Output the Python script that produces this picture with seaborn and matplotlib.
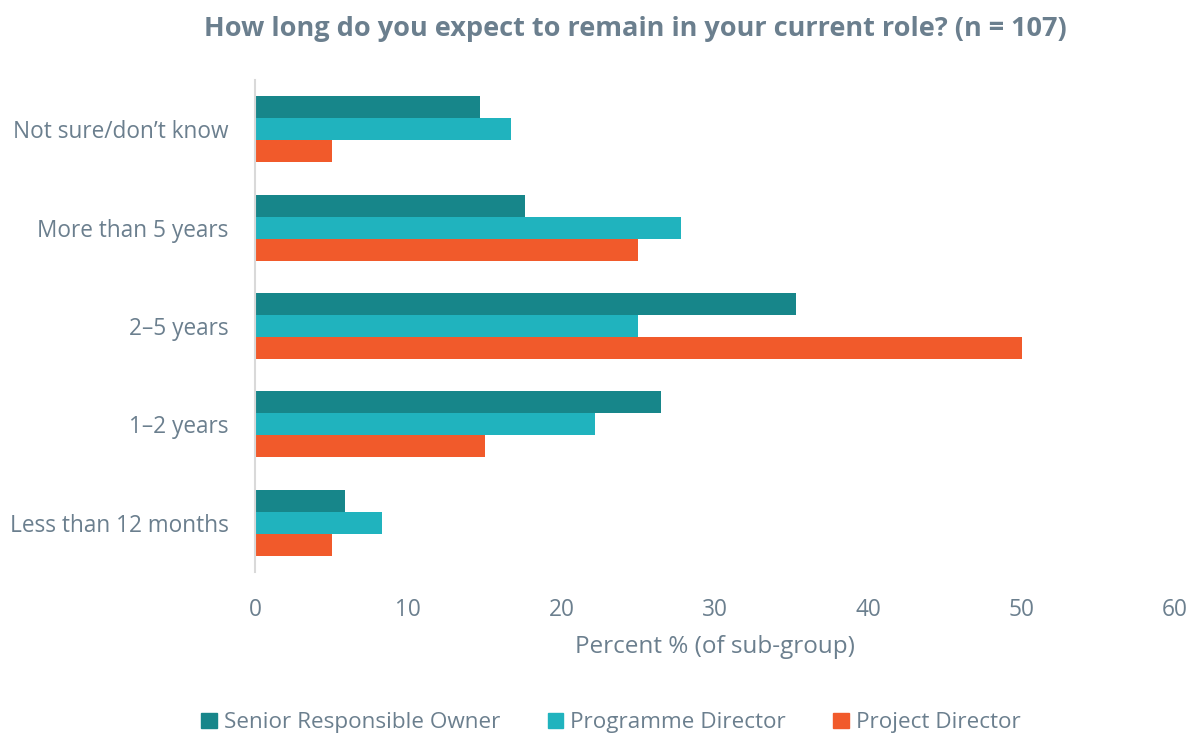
import matplotlib
matplotlib.use("Agg")
import matplotlib.pyplot as plt
import seaborn as sns
import pandas as pd

# Survey responses: share of each sub-group (%)
categories = ["Not sure/don\u2019t know", "More than 5 years", "2\u20135 years",
              "1\u20132 years", "Less than 12 months"]
groups = ["Senior Responsible Owner", "Programme Director", "Project Director"]
sro = [14.7, 17.6, 35.3, 26.5, 5.9]
programme = [16.7, 27.8, 25.0, 22.2, 8.3]
project = [5.0, 25.0, 50.0, 15.0, 5.0]
x_ticks = [0, 10, 20, 30, 40, 50, 60]

colors = ["#17868a", "#20b3be", "#f15a2b"]
text_color = "#6b7f8e"

df = pd.DataFrame({
    "category": categories * 3,
    "group": [groups[0]] * 5 + [groups[1]] * 5 + [groups[2]] * 5,
    "value": sro + programme + project,
})

sns.set_theme(style="white")
plt.rcParams["font.family"] = ["Open Sans", "DejaVu Sans"]

fig = plt.figure(figsize=(11.93, 7.36), dpi=100)
ax = fig.add_axes([0.2137, 0.2228, 0.7713, 0.6685])

sns.barplot(data=df, x="value", y="category", hue="group",
            order=categories, hue_order=groups, palette=colors,
            width=0.67, saturation=1, linewidth=0, ax=ax, legend=True)

ax.set_xlim(0, 60)
ax.set_ylim(4.5, -0.5)
ax.set_xticks(x_ticks)
ax.set_xticklabels([str(t) for t in x_ticks])
ax.set_ylabel("")
ax.set_xlabel("Percent % (of sub-group)", fontsize=17.5, color=text_color, labelpad=9)
ax.tick_params(axis="both", length=0, labelsize=16.3, labelcolor=text_color)
ax.tick_params(axis="y", pad=19)
ax.tick_params(axis="x", pad=19)

for s in ["top", "right", "bottom"]:
    ax.spines[s].set_visible(False)
ax.spines["left"].set_color("#d9d9d9")
ax.spines["left"].set_linewidth(1.5)

ax.legend_.remove()
handles = [plt.Rectangle((0, 0), 1, 1, color=c) for c in colors]
fig.legend(handles, groups, loc="center", bbox_to_anchor=(0.512, 0.018),
           ncol=3, frameon=False, fontsize=16.2, labelcolor=text_color,
           handlelength=0.7, handleheight=0.7, handletextpad=0.3,
           columnspacing=2.1)

fig.suptitle("How long do you expect to remain in your current role? (n = 107)",
             x=0.533, y=0.978, fontsize=19.5, fontweight="bold", color=text_color)

fig.savefig("out.png", dpi=100, facecolor="white")
